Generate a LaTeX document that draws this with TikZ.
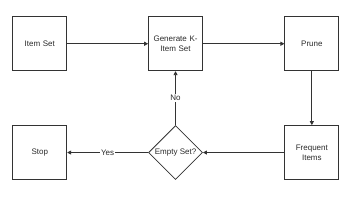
\documentclass[tikz,border=0pt]{standalone}
\usepackage{fontspec}
\setmainfont{Liberation Sans}
\usetikzlibrary{positioning,arrows.meta,shapes.geometric}
\definecolor{lineGrey}{HTML}{333333}
\definecolor{textGrey}{HTML}{2a2a2a}

\begin{document}
\begin{tikzpicture}[x=1pt,y=-1pt,
  box/.style={draw=lineGrey,line width=0.8pt,minimum width=54pt,minimum height=54pt,
    inner sep=1pt,align=center,text width=50pt,font=\fontsize{8}{9.5}\selectfont,text=textGrey},
  decision/.style={diamond,draw=lineGrey,line width=0.8pt,minimum width=54pt,minimum height=54pt,
    inner sep=0pt,aspect=1,font=\fontsize{8}{9.5}\selectfont,text=textGrey},
  flow/.style={draw=lineGrey,line width=0.8pt,-{Triangle[length=4pt,width=4pt]}},
  tag/.style={fill=white,inner sep=1pt,font=\fontsize{8}{9.5}\selectfont,text=textGrey}]
\useasboundingbox (0,0) rectangle (357,203);
\node[box] (itemset) at (39.75,43.75) {Item Set};
\node[box,right=81pt of itemset] (generate) {Generate K-\\Item Set};
\node[box,right=81.5pt of generate] (prune) {Prune};
\node[box,below=54pt of prune] (frequent) {Frequent\\Items};
\node[decision,below=54pt of generate] (empty) {Empty Set?};
\node[box,below=54pt of itemset] (stop) {Stop};
\draw[flow] (itemset) -- (generate);
\draw[flow] (generate) -- (prune);
\draw[flow] (prune) -- (frequent);
\draw[flow] (frequent) -- (empty);
\draw[flow] (empty) -- node[tag] {Yes} (stop);
\draw[flow] (empty) -- node[tag] {No} (generate);
\end{tikzpicture}
\end{document}
